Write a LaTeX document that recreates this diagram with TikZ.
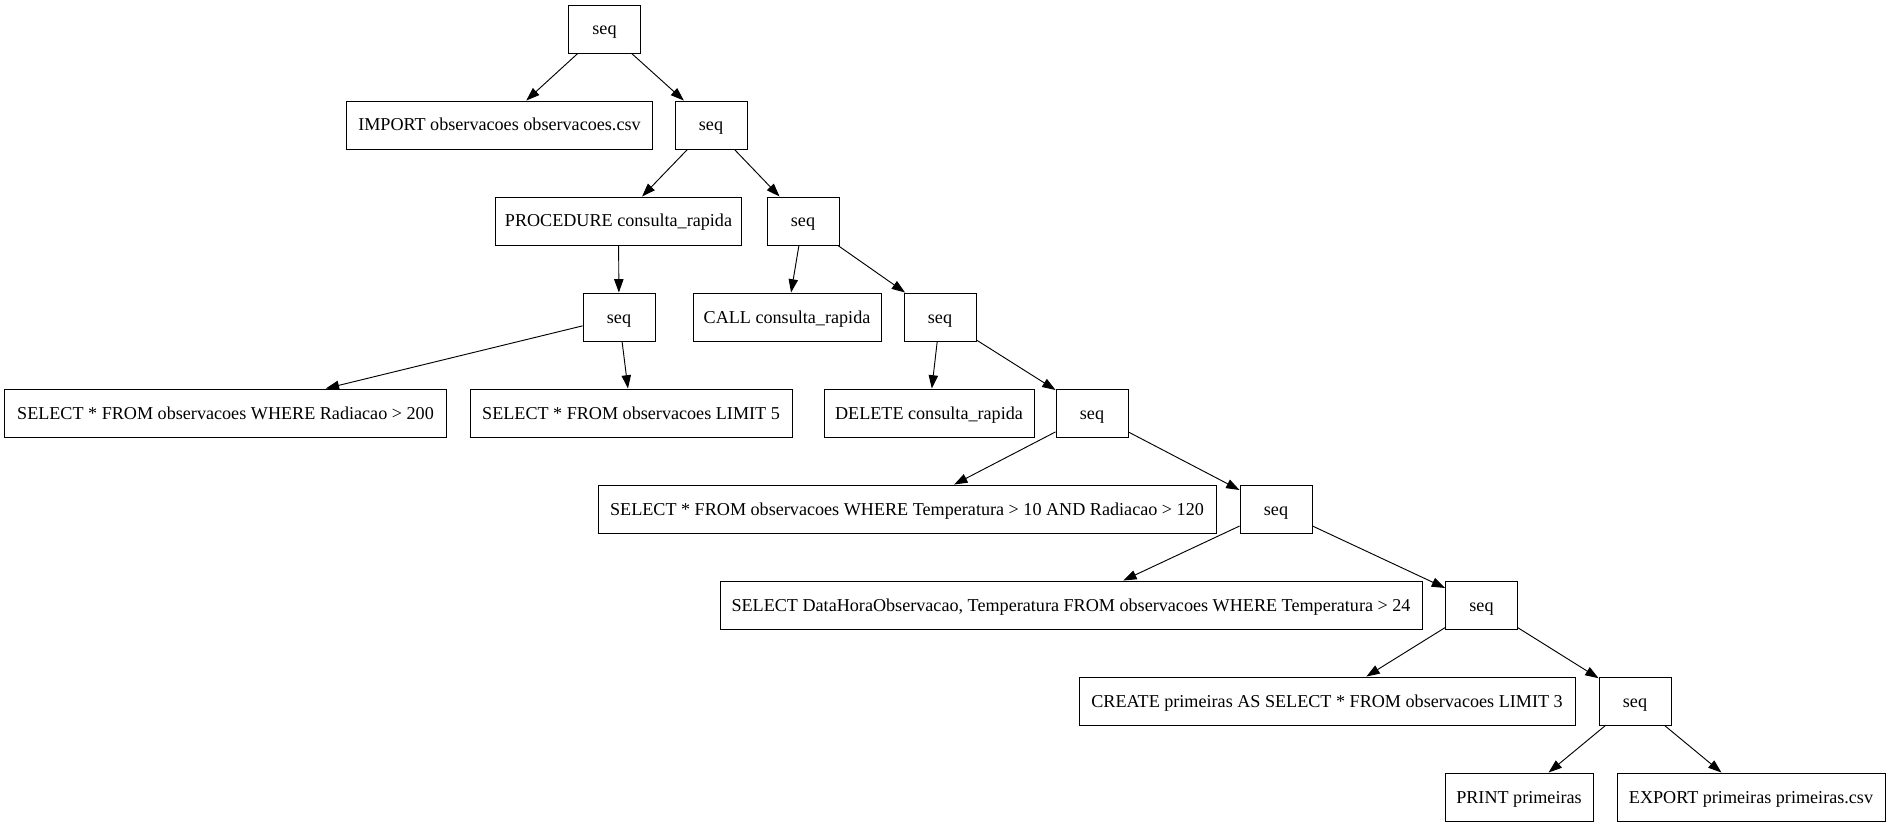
\documentclass[tikz,border=0pt]{standalone}
\usepackage{fontspec}
\setmainfont{Liberation Serif}
\usetikzlibrary{arrows.meta}
\begin{document}
\begin{tikzpicture}[x=0.75pt,y=-0.75pt,
  box/.style={draw,line width=0.7pt,rectangle,inner sep=0pt,minimum height=36pt,text height=11pt,text depth=2pt,font=\fontsize{13.6pt}{16pt}\selectfont},
  seqbox/.style={box,minimum width=54pt},
  edge/.style={line width=0.7pt,-{Triangle[length=10pt,width=7pt]}}]
\useasboundingbox (0,0) rectangle (1890,827);
\node[seqbox] (root) at (604.5,29) {seq};
\node[box,minimum width=229pt] (import) at (499.5,125) {IMPORT observacoes observacoes.csv};
\node[seqbox] (s2) at (711,125) {seq};
\node[box,minimum width=185pt] (proc) at (618.5,221) {PROCEDURE consulta\_rapida};
\node[seqbox] (s3) at (803,221) {seq};
\node[seqbox] (s3a) at (619,317) {seq};
\node[box,minimum width=141pt] (call) at (787,317) {CALL consulta\_rapida};
\node[seqbox] (s4) at (940,317) {seq};
\node[box,minimum width=331pt] (selR) at (225.5,413) {SELECT * FROM observacoes WHERE Radiacao > 200};
\node[box,minimum width=241.5pt] (selL) at (631,413) {SELECT * FROM observacoes LIMIT 5};
\node[box,minimum width=157.5pt] (del) at (929,413) {DELETE consulta\_rapida};
\node[seqbox] (s5) at (1092,413) {seq};
\node[box,minimum width=463.5pt] (selT) at (907,509) {SELECT * FROM observacoes WHERE Temperatura > 10 AND Radiacao > 120};
\node[seqbox] (s6) at (1276,509) {seq};
\node[box,minimum width=526.5pt] (selD) at (1071,605) {SELECT DataHoraObservacao, Temperatura FROM observacoes WHERE Temperatura > 24};
\node[seqbox] (s7) at (1481.5,605) {seq};
\node[box,minimum width=372pt] (create) at (1327,701) {CREATE primeiras AS SELECT * FROM observacoes LIMIT 3};
\node[seqbox] (s8) at (1635,701) {seq};
\node[box,minimum width=111pt] (print) at (1519,797) {PRINT primeiras};
\node[box,minimum width=201pt] (export) at (1751,797) {EXPORT primeiras primeiras.csv};
\draw[edge] (root) -- (import);
\draw[edge] (root) -- (s2);
\draw[edge] (s2) -- (proc);
\draw[edge] (s2) -- (s3);
\draw[edge] (proc) -- (s3a);
\draw[edge] (s3a) -- (selR);
\draw[edge] (s3a) -- (selL);
\draw[edge] (s3) -- (call);
\draw[edge] (s3) -- (s4);
\draw[edge] (s4) -- (del);
\draw[edge] (s4) -- (s5);
\draw[edge] (s5) -- (selT);
\draw[edge] (s5) -- (s6);
\draw[edge] (s6) -- (selD);
\draw[edge] (s6) -- (s7);
\draw[edge] (s7) -- (create);
\draw[edge] (s7) -- (s8);
\draw[edge] (s8) -- (print);
\draw[edge] (s8) -- (export);
\end{tikzpicture}
\end{document}
